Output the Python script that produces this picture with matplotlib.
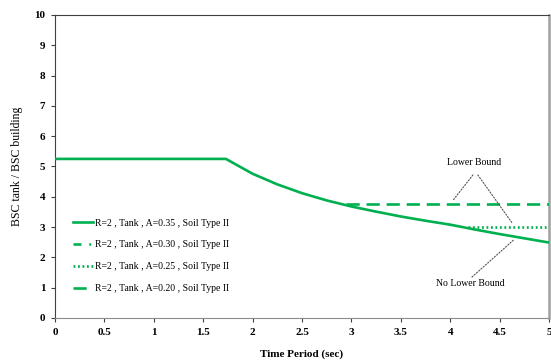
import numpy as np
import matplotlib.pyplot as plt

# 读取图中数据
period = [0, 1.73, 2.0, 2.25, 2.5, 2.75, 3.0, 3.25, 3.5, 3.75, 4.0, 4.25, 4.5, 4.75, 5.0]
ratio_a035 = [5.25, 5.25, 4.76, 4.41, 4.12, 3.88, 3.68, 3.51, 3.35, 3.21, 3.08, 2.92, 2.77, 2.63, 2.49]
ratio_a030 = ratio_a035
period_a025 = [4.18, 5.0]
ratio_a025 = [3.0, 3.0]
period_a020 = [2.95, 5.0]
ratio_a020 = [3.75, 3.75]

labels = ['R=2 , Tank , A=0.35 , Soil Type II',
          'R=2 , Tank , A=0.30 , Soil Type II',
          'R=2 , Tank , A=0.25 , Soil Type II',
          'R=2 , Tank , A=0.20 , Soil Type II']

green = '#00b050'
plt.rcParams['font.family'] = ['Liberation Serif', 'DejaVu Serif']

fig = plt.figure(figsize=(5.51, 3.63), dpi=100)
ax = fig.add_axes([0.0998, 0.124, 0.8966, 0.8347])

lw = 1.9
ax.plot(period, ratio_a035, color=green, lw=lw, label=labels[0], zorder=3)
# A=0.30 与 A=0.35 重合, 画在下面
ax.plot(period, ratio_a030, color=green, lw=1.0, dashes=(6, 6, 1.4, 6), label=labels[1], zorder=2)
ax.plot(period_a025, ratio_a025, color=green, lw=lw, dashes=(0.7, 1.0), label=labels[2], zorder=3)
ax.plot(period_a020, ratio_a020, color=green, lw=lw, dashes=(5, 2.6), label=labels[3], zorder=3)

ax.set_xlim(0, 5)
ax.set_ylim(0, 10)
ax.set_xticks(np.arange(0, 5.01, 0.5))
ax.set_xticklabels(['0', '0.5', '1', '1.5', '2', '2.5', '3', '3.5', '4', '4.5', '5'])
ax.set_yticks(range(0, 11))
ax.tick_params(direction='out', length=3, width=0.8, pad=4, labelsize=8, colors='#404040',
               labelcolor='black')
for t in ax.get_xticklabels() + ax.get_yticklabels():
    t.set_fontweight('bold')

ax.spines['left'].set_color('#404040')
ax.spines['top'].set_color('#404040')
ax.spines['bottom'].set_color('#8c8c8c')
ax.spines['right'].set_color('#a0a0a0')
ax.spines['right'].set_linewidth(1.8)

ax.set_xlabel('Time Period (sec)', fontsize=8, fontweight='bold', labelpad=9)
ax.set_ylabel('BSC tank / BSC building', fontsize=8.5, labelpad=8)

# 注释
ax.text(4.24, 5.12, 'Lower Bound', fontsize=7, ha='center', va='center')
ax.text(4.2, 1.15, 'No Lower Bound', fontsize=7, ha='center', va='center')
lead = dict(arrowstyle='-', color='#555555', lw=0.8, linestyle=(0, (1.2, 1.5)),
            shrinkA=0, shrinkB=0)
ax.annotate('', xy=(4.03, 3.89), xytext=(4.23, 4.72), arrowprops=lead)
ax.annotate('', xy=(4.63, 3.12), xytext=(4.28, 4.72), arrowprops=lead)
ax.annotate('', xy=(4.64, 2.57), xytext=(4.22, 1.35), arrowprops=lead)

leg = ax.legend(loc='center left', bbox_to_anchor=(0.036, 0.205), frameon=False,
                fontsize=7, handlelength=2.1, handletextpad=0.2, labelspacing=1.32,
                borderpad=0, borderaxespad=0)
h = leg.legend_handles[1]
h.set_linewidth(lw)
h.set_dashes((3, 3, 0.7, 3))

fig.savefig('out.png', dpi=100)
